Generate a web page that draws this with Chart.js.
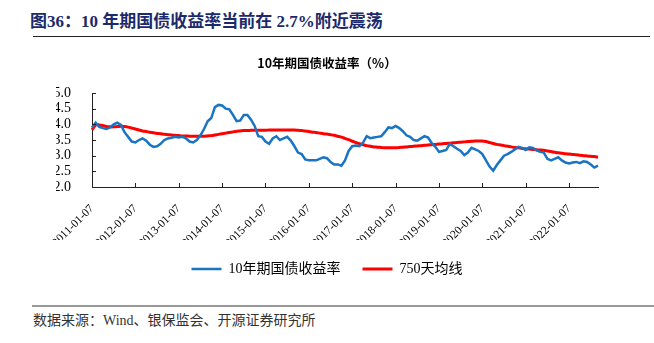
<!DOCTYPE html>
<html>
<head>
<meta charset="utf-8">
<script src="https://cdn.jsdelivr.net/npm/chart.js@4.4.0/dist/chart.umd.min.js"></script>
<style>
  body { margin: 0; background: #fff; width: 654px; height: 343px; position: relative; overflow: hidden; }
  #fig-title {
    position: absolute; left: 30px; top: 7px;
    font: bold 17px "Liberation Serif", "Noto Sans CJK SC", serif;
    color: #1c2a6b; white-space: nowrap;
  }
  #fig-rule { position: absolute; left: 33px; top: 36px; width: 617px; height: 0; border-top: 1.5px solid #222; }
  #chart-box { position: absolute; left: 0; top: 40px; width: 654px; height: 250px; }
  #src-rule { position: absolute; left: 32px; top: 305px; width: 622px; height: 0; border-top: 2px solid #999; }
  #source {
    position: absolute; left: 33px; top: 309px;
    font: 14px "Liberation Serif", "Noto Sans CJK SC", serif;
    color: #333; white-space: nowrap;
  }
</style>
</head>
<body>
<div id="fig-title">图36：10 年期国债收益率当前在 2.7%附近震荡</div>
<div id="fig-rule"></div>
<div id="chart-box"><canvas id="yield-chart"></canvas></div>
<div id="src-rule"></div>
<div id="source">数据来源：Wind、银保监会、开源证券研究所</div>

<script>
// 月度取样, 2011-01 ~ 2022-09
const yearTicks = ["2011-01-07", "2012-01-07", "2013-01-07", "2014-01-07", "2015-01-07", "2016-01-07",
    "2017-01-07", "2018-01-07", "2019-01-07", "2020-01-07", "2021-01-07", "2022-01-07"];

const months = [];
for (let y = 2011; y <= 2022; y++) {
    for (let m = 1; m <= 12; m++) {
        if (y === 2022 && m > 9) break;
        months.push(y + "-" + String(m).padStart(2, "0") + "-07");
    }
}

const yield10y = [
    3.90, 4.05, 3.92, 3.88, 3.85, 3.90, 4.00, 4.05, 3.98, 3.75, 3.60, 3.45, // 2011
    3.42, 3.50, 3.55, 3.48, 3.35, 3.28, 3.30, 3.38, 3.50, 3.55, 3.57, 3.60, // 2012
    3.58, 3.60, 3.55, 3.45, 3.42, 3.50, 3.65, 3.85, 4.10, 4.20, 4.55, 4.62, // 2013
    4.60, 4.50, 4.48, 4.30, 4.10, 4.12, 4.30, 4.30, 4.15, 3.95, 3.62, 3.60, // 2014
    3.45, 3.38, 3.55, 3.62, 3.50, 3.55, 3.60, 3.48, 3.30, 3.10, 3.05, 2.88, // 2015
    2.85, 2.85, 2.85, 2.90, 2.95, 2.92, 2.80, 2.72, 2.72, 2.68, 2.85, 3.15, // 2016
    3.30, 3.32, 3.30, 3.42, 3.62, 3.56, 3.58, 3.60, 3.62, 3.75, 3.90, 3.88, // 2017
    3.95, 3.88, 3.78, 3.65, 3.60, 3.50, 3.48, 3.55, 3.62, 3.58, 3.40, 3.28, // 2018
    3.12, 3.15, 3.18, 3.38, 3.30, 3.22, 3.15, 3.02, 3.10, 3.25, 3.20, 3.15, // 2019
    3.05, 2.85, 2.65, 2.52, 2.70, 2.85, 3.00, 3.05, 3.12, 3.20, 3.28, 3.25, // 2020
    3.18, 3.27, 3.25, 3.17, 3.12, 3.10, 2.90, 2.85, 2.90, 2.95, 2.85, 2.78, // 2021
    2.75, 2.78, 2.80, 2.76, 2.82, 2.80, 2.72, 2.62, 2.68                    // 2022
];

const ma750 = [
    3.82, 3.98, 3.98, 3.96, 3.93, 3.92, 3.92, 3.93, 3.94, 3.93, 3.91, 3.88,
    3.85, 3.82, 3.79, 3.77, 3.75, 3.73, 3.71, 3.70, 3.68, 3.67, 3.66, 3.65,
    3.64, 3.63, 3.63, 3.62, 3.62, 3.62, 3.62, 3.62, 3.63, 3.64, 3.66, 3.68,
    3.70, 3.72, 3.74, 3.76, 3.78, 3.79, 3.80, 3.80, 3.81, 3.81, 3.81, 3.81,
    3.81, 3.82, 3.82, 3.82, 3.82, 3.82, 3.82, 3.82, 3.82, 3.81, 3.80, 3.79,
    3.77, 3.75, 3.74, 3.72, 3.70, 3.69, 3.67, 3.65, 3.62, 3.59, 3.55, 3.51,
    3.46, 3.42, 3.38, 3.35, 3.32, 3.30, 3.28, 3.27, 3.26, 3.25, 3.25, 3.25,
    3.25, 3.26, 3.27, 3.28, 3.29, 3.30, 3.31, 3.32, 3.33, 3.34, 3.35, 3.36,
    3.37, 3.38, 3.39, 3.40, 3.41, 3.42, 3.43, 3.44, 3.45, 3.46, 3.47, 3.47,
    3.47, 3.45, 3.42, 3.39, 3.36, 3.34, 3.32, 3.30, 3.28, 3.26, 3.25, 3.23,
    3.22, 3.21, 3.20, 3.19, 3.18, 3.17, 3.15, 3.13, 3.11, 3.09, 3.08, 3.06,
    3.05, 3.04, 3.03, 3.01, 3.00, 2.99, 2.98, 2.97, 2.95
];

const serif = "'Liberation Serif', 'Noto Sans CJK SC', serif";

// 坐标轴内侧的小刻度
const innerTicks = {
    id: "innerTicks",
    afterDraw(chart) {
        const ctx = chart.ctx;
        const area = chart.chartArea;
        const xs = chart.scales.x;
        const ys = chart.scales.y;
        ctx.save();
        ctx.strokeStyle = "#222";
        ctx.lineWidth = 1;
        ctx.beginPath();
        xs.ticks.forEach((t, i) => {
            if (t.label == null) return;
            const px = Math.round(xs.getPixelForTick(i)) + 0.5;
            ctx.moveTo(px, area.bottom);
            ctx.lineTo(px, area.bottom - 4);
        });
        ys.ticks.forEach((t, i) => {
            const py = Math.round(ys.getPixelForTick(i)) + 0.5;
            ctx.moveTo(area.left, py);
            ctx.lineTo(area.left + 4, py);
        });
        ctx.stroke();
        ctx.restore();
    }
};

new Chart(document.querySelector("#yield-chart"), {
    type: "line",
    data: {
        labels: months,
        datasets: [
            {
                label: "10年期国债收益率",
                data: yield10y,
                borderColor: "#1a74c1",
                backgroundColor: "#1a74c1",
                borderWidth: 2.5,
                pointRadius: 0,
                tension: 0
            },
            {
                label: "750天均线",
                data: ma750,
                borderColor: "#ff0000",
                backgroundColor: "#ff0000",
                borderWidth: 3,
                pointRadius: 0,
                tension: 0.3
            }
        ]
    },
    options: {
        responsive: true,
        maintainAspectRatio: false,
        devicePixelRatio: 1,
        animation: false,
        layout: { padding: { left: 56, right: 56, top: 0, bottom: 4 } },
        plugins: {
            title: {
                display: true,
                text: "10年期国债收益率（%）",
                color: "#000",
                font: { family: "'Noto Sans CJK SC', sans-serif", size: 12.5, weight: "bold", lineHeight: 1.2 },
                padding: { top: 16, bottom: 22 }
            },
            legend: {
                position: "bottom",
                labels: {
                    usePointStyle: true,
                    pointStyle: "line",
                    pointStyleWidth: 30,
                    boxHeight: 3,
                    padding: 22,
                    color: "#000",
                    font: { family: serif, size: 14 }
                }
            },
            tooltip: { enabled: false }
        },
        scales: {
            x: {
                grid: { display: false },
                border: { display: true, color: "#222", width: 1 },
                ticks: {
                    autoSkip: false,
                    minRotation: 45,
                    maxRotation: 45,
                    padding: 7,
                    color: "#000",
                    font: { family: serif, size: 11.5 },
                    callback: function (v) {
                        const lab = this.getLabelForValue(v);
                        return yearTicks.includes(lab) ? lab : null;
                    }
                },
                afterFit(scale) {
                    scale.height = 53;
                    scale.paddingLeft = 0;
                    scale.paddingRight = 0;
                }
            },
            y: {
                min: 2,
                max: 5,
                grid: { display: false },
                border: { display: true, color: "#222", width: 1 },
                ticks: {
                    stepSize: 0.5,
                    autoSkip: false,
                    padding: 13,
                    color: "#000",
                    font: { family: serif, size: 14, lineHeight: 1 },
                    callback: v => v.toFixed(1)
                },
                afterFit(scale) {
                    scale.width = 36;
                }
            }
        }
    },
    plugins: [innerTicks]
});
</script>
</body>
</html>
